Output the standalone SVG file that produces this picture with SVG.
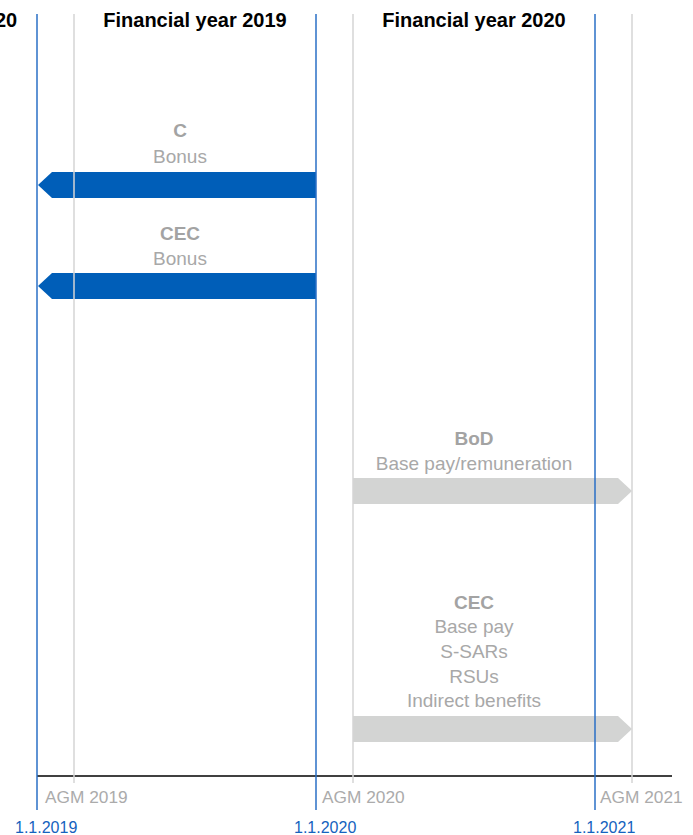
<svg xmlns="http://www.w3.org/2000/svg" width="693" height="835" viewBox="0 0 693 835">
  <style>
    text { font-family: "Liberation Sans", Arial, sans-serif; }
    .title { font-size: 20px; font-weight: bold; fill: #000; text-anchor: middle; }
    .lbl-b { font-size: 19px; font-weight: bold; fill: #A3A3A3; text-anchor: middle; }
    .lbl { font-size: 19px; fill: #A8A8A8; text-anchor: middle; }
    .agm { font-size: 17.3px; fill: #ABABAB; }
    .date { font-size: 16px; fill: #1562BE; }
    .blue-bar { fill: #005EB8; }
    .gray-bar { fill: #D3D4D3; }
    .vblue { stroke: #2A6FC6; stroke-width: 1.5; }
    .vgray { stroke: #D4D4D4; stroke-width: 1.5; }
    .axis { stroke: #000; stroke-width: 1.5; }
  </style>

  <g id="titles">
    <text class="title" x="-5" y="27" style="text-anchor:start">20</text>
    <text class="title" x="195" y="27">Financial year 2019</text>
    <text class="title" x="474" y="27">Financial year 2020</text>
  </g>

  <g id="node-c-bonus">
    <polygon class="blue-bar" points="316,172 52,172 38,185 52,198 316,198"/>
    <text class="lbl-b" x="180" y="137">C</text>
    <text class="lbl" x="180" y="162.5">Bonus</text>
  </g>

  <g id="node-cec-bonus">
    <polygon class="blue-bar" points="316,273 52,273 38,286 52,299 316,299"/>
    <text class="lbl-b" x="180" y="240">CEC</text>
    <text class="lbl" x="180" y="265">Bonus</text>
  </g>

  <g id="node-bod">
    <polygon class="gray-bar" points="353,478 618,478 632,491 618,504 353,504"/>
    <text class="lbl-b" x="474" y="445">BoD</text>
    <text class="lbl" x="474" y="470">Base pay/remuneration</text>
  </g>

  <g id="node-cec-base">
    <polygon class="gray-bar" points="353,716 618,716 632,729 618,742 353,742"/>
    <text class="lbl-b" x="474" y="608.5">CEC</text>
    <text class="lbl" x="474" y="633">Base pay</text>
    <text class="lbl" x="474" y="658">S-SARs</text>
    <text class="lbl" x="474" y="682.5">RSUs</text>
    <text class="lbl" x="474" y="706.5">Indirect benefits</text>
  </g>

  <g id="connectors">
    <line class="axis" x1="37" y1="776" x2="672" y2="776"/>
    <line class="vgray" x1="74" y1="14" x2="74" y2="783"/>
    <line class="vgray" x1="353" y1="14" x2="353" y2="783"/>
    <line class="vgray" x1="632" y1="14" x2="632" y2="783"/>
    <line class="vblue" x1="37" y1="14" x2="37" y2="810"/>
    <line class="vblue" x1="316" y1="14" x2="316" y2="810"/>
    <line class="vblue" x1="595" y1="14" x2="595" y2="810"/>
  </g>

  <g id="axis-labels">
    <text class="agm" x="45" y="802.5">AGM 2019</text>
    <text class="agm" x="322" y="802.5">AGM 2020</text>
    <text class="agm" x="600" y="802.5">AGM 2021</text>
    <text class="date" x="15" y="832.5">1.1.2019</text>
    <text class="date" x="294" y="832.5">1.1.2020</text>
    <text class="date" x="573" y="832.5">1.1.2021</text>
  </g>
</svg>
